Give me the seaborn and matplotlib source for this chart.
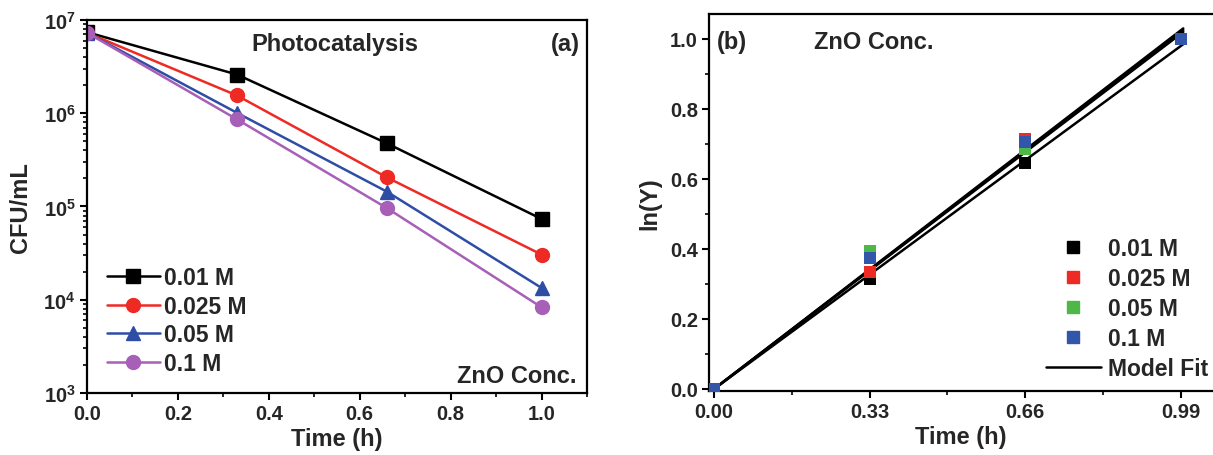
import numpy as np
import pandas as pd
import matplotlib
matplotlib.use('Agg')
import matplotlib.pyplot as plt
import seaborn as sns
from matplotlib.ticker import FixedLocator, MultipleLocator, LogLocator, FuncFormatter, NullFormatter
from matplotlib.lines import Line2D

# --- data ---
conc_labels = ['0.01 M', '0.025 M', '0.05 M', '0.1 M']
time_a = [0.0, 0.33, 0.66, 1.0]
cfu_001 = [7.4e6, 2.6e6, 4.75e5, 7.35e4]
cfu_0025 = [7.3e6, 1.55e6, 2.05e5, 3.05e4]
cfu_005 = [7.3e6, 1.01e6, 1.44e5, 1.34e4]
cfu_01 = [7.3e6, 8.6e5, 9.6e4, 8.3e3]

time_b = [0.0, 0.33, 0.66, 0.99]
lny_001 = [0.0, 0.315, 0.645, 1.0]
lny_0025 = [0.0, 0.335, 0.715, 1.0]
lny_005 = [0.0, 0.395, 0.685, 1.0]
lny_01 = [0.0, 0.375, 0.705, 1.0]

fit_x = [0.0, 0.995]
fit_001 = [0.0, 0.985]
fit_0025 = [0.0, 1.02]
fit_005 = [0.0, 1.025]
fit_01 = [0.0, 1.03]

colors = ['#000000', '#EE2A24', '#2E4EA6', '#A75FB7']
colors_b = ['#000000', '#EE2A24', '#4DB848', '#3256AA']
markers_a = ['s', 'o', '^', 'o']

df_a = pd.DataFrame({
    'time': time_a * 4,
    'cfu': cfu_001 + cfu_0025 + cfu_005 + cfu_01,
    'conc': [c for c in conc_labels for _ in time_a],
})
df_b = pd.DataFrame({
    'time': time_b * 4,
    'lny': lny_001 + lny_0025 + lny_005 + lny_01,
    'conc': [c for c in conc_labels for _ in time_b],
})
fits = [fit_001, fit_0025, fit_005, fit_01]

sns.set_theme(style='ticks')
plt.rcParams['font.family'] = ['Liberation Sans', 'DejaVu Sans']
plt.rcParams['font.weight'] = 'bold'
plt.rcParams['axes.labelweight'] = 'bold'
plt.rcParams['mathtext.fontset'] = 'custom'
plt.rcParams['mathtext.bf'] = 'Liberation Sans:bold'
plt.rcParams['mathtext.rm'] = 'Liberation Sans:bold'

fig = plt.figure(figsize=(12.13, 4.56), dpi=100)
ax_a = fig.add_axes([0.0717, 0.136, 0.4122, 0.818])
ax_b = fig.add_axes([0.5845, 0.1404, 0.4155, 0.8266])

TICK_FS = 14.5
LABEL_FS = 17
LEG_FS = 16.5
NOTE_FS = 17


def style_axes(ax):
    for sp in ax.spines.values():
        sp.set_linewidth(1.6)
        sp.set_color('black')
    ax.tick_params(which='major', direction='out', length=5, width=1.5,
                   labelsize=TICK_FS, color='black', pad=3)
    ax.tick_params(which='minor', direction='out', length=3, width=1.2, color='black')
    for lab in ax.get_xticklabels() + ax.get_yticklabels():
        lab.set_fontweight('bold')


# --- panel (a) ---
for lab, col, mk in zip(conc_labels, colors, markers_a):
    sub = df_a[df_a['conc'] == lab]
    sns.lineplot(data=sub, x='time', y='cfu', ax=ax_a, color=col, marker=mk,
                 markersize=10, markeredgecolor=col, markeredgewidth=1,
                 linewidth=1.8, label=lab)
ax_a.set_yscale('log')
ax_a.set_xlim(0, 1.1)
ax_a.set_ylim(1e3, 1e7)
ax_a.xaxis.set_major_locator(FixedLocator([0.0, 0.2, 0.4, 0.6, 0.8, 1.0]))
ax_a.xaxis.set_minor_locator(MultipleLocator(0.1))
ax_a.xaxis.set_major_formatter(FuncFormatter(lambda v, p: f'{v:.1f}'))
ax_a.yaxis.set_major_locator(LogLocator(base=10, numticks=10))
ax_a.yaxis.set_minor_locator(LogLocator(base=10, subs=np.arange(2, 10), numticks=20))
ax_a.yaxis.set_minor_formatter(NullFormatter())
ax_a.yaxis.set_major_formatter(FuncFormatter(lambda v, p: r'$\mathbf{10^{%d}}$' % round(np.log10(v))))
ax_a.set_xlabel('Time (h)', fontsize=LABEL_FS, fontweight='bold', labelpad=3)
ax_a.set_ylabel('CFU/mL', fontsize=LABEL_FS, fontweight='bold', labelpad=8)
style_axes(ax_a)
ax_a.text(0.496, 0.938, 'Photocatalysis', transform=ax_a.transAxes, ha='center', va='center',
          fontsize=NOTE_FS, fontweight='bold')
ax_a.text(0.956, 0.938, '(a)', transform=ax_a.transAxes, ha='center', va='center',
          fontsize=NOTE_FS, fontweight='bold')
ax_a.text(0.98, 0.048, 'ZnO Conc.', transform=ax_a.transAxes, ha='right', va='center',
          fontsize=NOTE_FS, fontweight='bold')
ax_a.legend(loc='upper left', bbox_to_anchor=(0.04, 0.341), frameon=False,
            prop={'size': LEG_FS, 'weight': 'bold'}, handlelength=2.3,
            handletextpad=0.2, labelspacing=0.255, borderpad=0, borderaxespad=0)

# --- panel (b) ---
for lab, col in zip(conc_labels, colors_b):
    sub = df_b[df_b['conc'] == lab]
    sns.scatterplot(data=sub, x='time', y='lny', ax=ax_b, color=col, marker='s',
                    s=85, edgecolor=col, linewidth=0, zorder=3)
for fy in fits:
    sns.lineplot(x=fit_x, y=fy, ax=ax_b, color='black', linewidth=1.8, zorder=2)
ax_b.set_xlim(-0.0106, 1.058)
ax_b.set_ylim(-0.0057, 1.071)
ax_b.xaxis.set_major_locator(FixedLocator([0.0, 0.33, 0.66, 0.99]))
ax_b.xaxis.set_minor_locator(FixedLocator([0.165, 0.495, 0.825]))
ax_b.xaxis.set_major_formatter(FuncFormatter(lambda v, p: f'{v:.2f}'))
ax_b.yaxis.set_major_locator(MultipleLocator(0.2))
ax_b.yaxis.set_minor_locator(MultipleLocator(0.1))
ax_b.yaxis.set_major_formatter(FuncFormatter(lambda v, p: f'{v:.1f}'))
ax_b.spines['right'].set_visible(False)
ax_b.set_xlabel('Time (h)', fontsize=LABEL_FS, fontweight='bold', labelpad=3)
ax_b.set_ylabel('ln(Y)', fontsize=LABEL_FS, fontweight='bold', labelpad=6)
style_axes(ax_b)
ax_b.text(0.016, 0.926, '(b)', transform=ax_b.transAxes, ha='left', va='center',
          fontsize=NOTE_FS, fontweight='bold')
ax_b.text(0.208, 0.926, 'ZnO Conc.', transform=ax_b.transAxes, ha='left', va='center',
          fontsize=NOTE_FS, fontweight='bold')
handles = [Line2D([], [], linestyle='none', marker='s', markersize=9, color=c) for c in colors_b]
handles.append(Line2D([], [], color='black', linewidth=1.8))
ax_b.legend(handles, conc_labels + ['Model Fit'], loc='lower right',
            bbox_to_anchor=(0.99, 0.03), frameon=False,
            prop={'size': LEG_FS, 'weight': 'bold'}, handlelength=2.4,
            handletextpad=0.3, labelspacing=0.30, borderpad=0, borderaxespad=0)

fig.savefig('out.png', dpi=100)
